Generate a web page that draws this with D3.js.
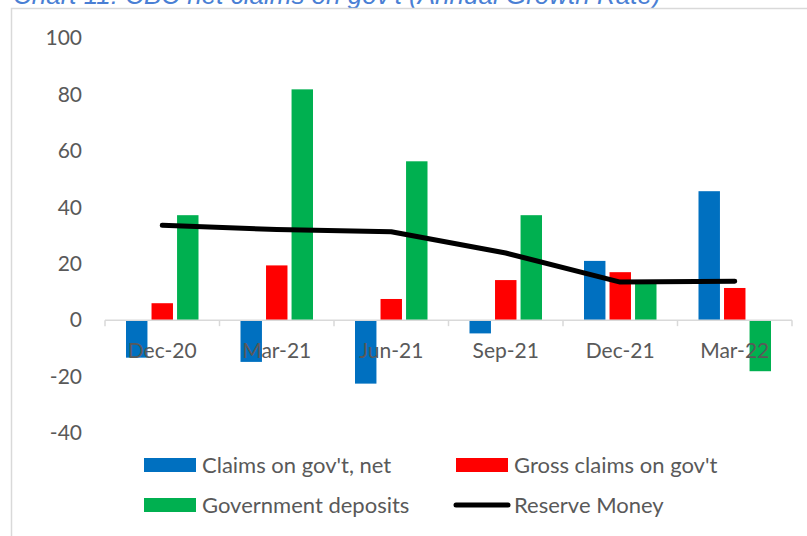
<!DOCTYPE html>
<html>
<head>
<meta charset="utf-8">
<script src="https://cdn.jsdelivr.net/npm/d3@7"></script>
<style>
  html, body { margin: 0; padding: 0; background: #fff; overflow: hidden; }
  svg { display: block; font-family: Lato, 'Open Sans', sans-serif; }
</style>
</head>
<body>
<svg></svg>
<script>
const title = `Chart 11: CBC net claims on gov't (Annual Growth Rate)`
const quarters = ['Dec-20', 'Mar-21', 'Jun-21', 'Sep-21', 'Dec-21', 'Mar-22']
const claimsNet = [-13.3, -14.8, -22.5, -4.7, 21.0, 45.7]
const grossClaims = [6.0, 19.4, 7.5, 14.2, 17.0, 11.4]
const govDeposits = [37.2, 81.8, 56.3, 37.2, 13.0, -18.1]
const reserveMoney = [33.6, 32.1, 31.3, 23.8, 13.5, 13.8]
const yTicks = [-40, -20, 0, 20, 40, 60, 80, 100]

const barSeries = [
  { name: `Claims on gov't, net`, values: claimsNet, color: '#0070c0' },
  { name: `Gross claims on gov't`, values: grossClaims, color: '#ff0000' },
  { name: 'Government deposits', values: govDeposits, color: '#00b050' }
]

const width = 807
const height = 536

const svg = d3.select('svg')
  .attr('width', width)
  .attr('height', height)

// title, partly cut off at the top like the source
svg.append('text')
  .attr('x', 13)
  .attr('y', 4)
  .attr('fill', '#4a7fd4')
  .attr('font-style', 'italic')
  .attr('font-size', '26px')
  .attr('font-family', "'Liberation Sans', Arial, sans-serif")
  .text(title)

// chart area border
svg.append('path')
  .attr('d', `M11.5,${height} V8.5 H${width}`)
  .attr('fill', 'none')
  .attr('stroke', '#d9d9d9')
  .attr('stroke-width', 1.5)

const x = d3.scaleBand()
  .domain(quarters)
  .range([105, 792])

const x1 = d3.scaleBand()
  .domain(barSeries.map(s => s.name))
  .range([21, x.bandwidth() - 21])
  .paddingInner(0.16)

const y = d3.scaleLinear()
  .domain([-40, 100])
  .range([433, 38])

// y labels (no axis line)
svg.append('g')
  .attr('transform', 'translate(82,0)')
  .call(d3.axisLeft(y).tickValues(yTicks).tickSize(0).tickPadding(0).tickFormat(d => String(d)))
  .call(g => g.select('.domain').remove())
  .call(g => g.selectAll('text')
    .attr('font-size', '21px')
    .attr('font-family', 'Lato, sans-serif')
    .attr('fill', '#595959'))

// bars
barSeries.forEach(s => {
  svg.append('g')
    .attr('fill', s.color)
    .selectAll('rect')
    .data(s.values)
    .enter().append('rect')
    .attr('x', (d, i) => x(quarters[i]) + x1(s.name))
    .attr('width', x1.bandwidth())
    .attr('y', d => y(Math.max(0, d)))
    .attr('height', d => Math.abs(y(d) - y(0)))
})

// x axis at zero
svg.append('g')
  .attr('transform', `translate(0,${y(0)})`)
  .call(d3.axisBottom(x).tickSize(0).tickFormat(''))
  .call(g => g.select('.domain').attr('stroke', '#d9d9d9').attr('stroke-width', 1.5)
    .attr('d', `M105,0H792`))
  .call(g => g.selectAll('.tick').remove())

svg.append('g')
  .attr('stroke', '#d9d9d9')
  .attr('stroke-width', 1.5)
  .selectAll('line')
  .data(quarters.concat(['end']))
  .enter().append('line')
  .attr('x1', (d, i) => i < quarters.length ? x(d) : x.range()[1])
  .attr('x2', (d, i) => i < quarters.length ? x(d) : x.range()[1])
  .attr('y1', y(0))
  .attr('y2', y(0) + 6)

// reserve money line
const line = d3.line()
  .x((d, i) => x(quarters[i]) + x.bandwidth() / 2)
  .y(d => y(d))

svg.append('path')
  .datum(reserveMoney)
  .attr('fill', 'none')
  .attr('stroke', '#000')
  .attr('stroke-width', 5)
  .attr('stroke-linecap', 'round')
  .attr('stroke-linejoin', 'round')
  .attr('d', line)

// category labels drawn over the bars
svg.append('g')
  .attr('font-size', '21px')
  .attr('fill', '#595959')
  .attr('text-anchor', 'middle')
  .selectAll('text')
  .data(quarters)
  .enter().append('text')
  .attr('x', d => x(d) + x.bandwidth() / 2)
  .attr('y', 358)
  .text(d => d)

// legend
const legendItems = [
  { name: barSeries[0].name, color: barSeries[0].color, kind: 'bar', col: 0, row: 0 },
  { name: barSeries[1].name, color: barSeries[1].color, kind: 'bar', col: 1, row: 0 },
  { name: barSeries[2].name, color: barSeries[2].color, kind: 'bar', col: 0, row: 1 },
  { name: 'Reserve Money', color: '#000', kind: 'line', col: 1, row: 1 }
]

const legend = svg.append('g')
  .selectAll('g')
  .data(legendItems)
  .enter().append('g')
  .attr('transform', d => `translate(${d.col === 0 ? 144 : 456},${d.row === 0 ? 465 : 505})`)

legend.filter(d => d.kind === 'bar').append('rect')
  .attr('x', 0)
  .attr('y', -7)
  .attr('width', 52)
  .attr('height', 14)
  .attr('fill', d => d.color)

legend.filter(d => d.kind === 'line').append('line')
  .attr('x1', 0)
  .attr('x2', 52)
  .attr('stroke', d => d.color)
  .attr('stroke-width', 5)
  .attr('stroke-linecap', 'round')

legend.append('text')
  .attr('x', 58)
  .attr('y', 8)
  .attr('font-size', '22px')
  .attr('fill', '#595959')
  .text(d => d.name)
</script>
</body>
</html>
